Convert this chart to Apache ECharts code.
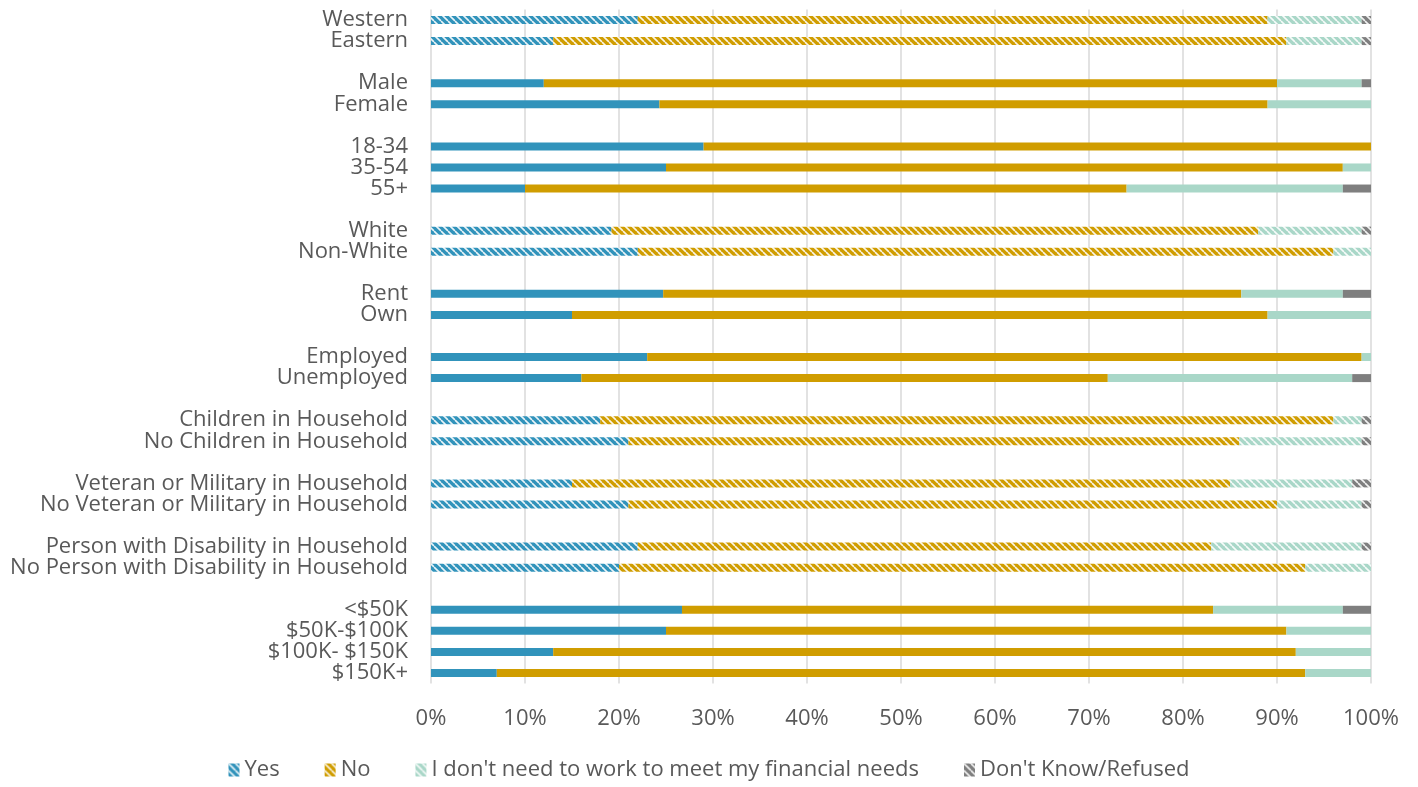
<!DOCTYPE html>
<html>
<head>
<meta charset="utf-8">
<script src="https://cdn.jsdelivr.net/npm/echarts@6/dist/echarts.min.js"></script>
<style>
  html, body { margin: 0; padding: 0; background: #fff; }
  #chart { width: 1418px; height: 787px; }
</style>
</head>
<body>
<div id="chart"></div>
<script>
  // null = blank spacer row between groups
  const categories = [
    'Western', 'Eastern', null,
    'Male', 'Female', null,
    '18-34', '35-54', '55+', null,
    'White', 'Non-White', null,
    'Rent', 'Own', null,
    'Employed', 'Unemployed', null,
    'Children in Household', 'No Children in Household', null,
    'Veteran or Military in Household', 'No Veteran or Military in Household', null,
    'Person with Disability in Household', 'No Person with Disability in Household', null,
    '<$50K', '$50K-$100K', '$100K- $150K', '$150K+'
  ]
  const seriesNames = ['Yes', 'No', "I don't need to work to meet my financial needs", "Don't Know/Refused"]
  const yesValues = [22, 13, null, 12, 24.3, null, 29, 25, 10, null, 19.2, 22, null, 24.7, 15, null, 23, 16, null, 18, 21, null, 15, 21, null, 22, 20, null, 26.7, 25, 13, 7]
  const noValues = [67, 78, null, 78, 64.7, null, 71, 72, 64, null, 68.8, 74, null, 61.5, 74, null, 76, 56, null, 78, 65, null, 70, 69, null, 61, 73, null, 56.5, 66, 79, 86]
  const notNeedValues = [10, 8, null, 9, 11, null, 0, 3, 23, null, 11, 4, null, 10.8, 11, null, 1, 26, null, 3, 13, null, 13, 9, null, 16, 7, null, 13.8, 9, 8, 7]
  const dkValues = [1, 1, null, 1, 0, null, 0, 0, 3, null, 1, 0, null, 3, 0, null, 0, 2, null, 1, 1, null, 2, 1, null, 1, 0, null, 3, 0, 0, 0]
  const xTicks = [0, 10, 20, 30, 40, 50, 60, 70, 80, 90, 100]

  // rows drawn with the diagonal hatch fill
  const hatchedRows = ['Western', 'Eastern', 'White', 'Non-White',
    'Children in Household', 'No Children in Household',
    'Veteran or Military in Household', 'No Veteran or Military in Household',
    'Person with Disability in Household', 'No Person with Disability in Household']

  const colors = ['#3193bb', '#d09d00', '#a9d7c8', '#7f7f7f']
  const FONT = 'Open Sans'

  function hatch(color) {
    const c = document.createElement('canvas')
    c.width = 7
    c.height = 7
    const g = c.getContext('2d')
    g.fillStyle = color
    g.fillRect(0, 0, 7, 7)
    g.strokeStyle = 'rgba(255,255,255,0.9)'
    g.lineWidth = 1.6
    g.beginPath()
    for (let k = -7; k <= 7; k += 7) {
      g.moveTo(k, 0)
      g.lineTo(k + 7, 7)
    }
    g.stroke()
    return { image: c, repeat: 'repeat' }
  }

  const axisCats = categories.map((c, i) => c === null ? '__gap' + i : c)
  const allValues = [yesValues, noValues, notNeedValues, dkValues]

  const series = seriesNames.map((name, s) => ({
    name: name,
    type: 'bar',
    stack: 'total',
    barWidth: 8,
    itemStyle: { color: hatch(colors[s]) },
    emphasis: { disabled: true },
    data: allValues[s].map((v, i) => {
      if (v === null) return null
      if (hatchedRows.indexOf(categories[i]) >= 0) return v
      return { value: v, itemStyle: { color: colors[s] } }
    })
  }))

  const chart = echarts.init(document.getElementById('chart'))
  chart.setOption({
    animation: false,
    textStyle: { fontFamily: FONT },
    grid: { left: 431, right: 47, top: 9.5, bottom: 103.5 },
    legend: {
      data: seriesNames,
      left: 'center',
      top: 754,
      icon: 'rect',
      itemWidth: 11,
      itemHeight: 13,
      itemGap: 45,
      textStyle: { fontSize: 22, color: '#595959', fontFamily: FONT }
    },
    xAxis: {
      type: 'value',
      min: 0,
      max: 100,
      interval: 10,
      axisLine: { show: false },
      axisTick: { show: false },
      axisLabel: {
        margin: 24,
        fontSize: 22,
        color: '#595959',
        formatter: v => xTicks.indexOf(v) >= 0 ? v + '%' : ''
      },
      splitLine: { show: true, lineStyle: { color: '#d9d9d9', width: 1.5 } }
    },
    yAxis: {
      type: 'category',
      inverse: true,
      data: axisCats,
      axisLine: { show: false },
      axisTick: { show: false },
      axisLabel: {
        margin: 23,
        fontSize: 22,
        color: '#595959',
        interval: 0,
        padding: [4, 0, 0, 0],
        formatter: v => v.indexOf('__gap') === 0 ? '' : v
      }
    },
    series: series
  })
</script>
</body>
</html>
